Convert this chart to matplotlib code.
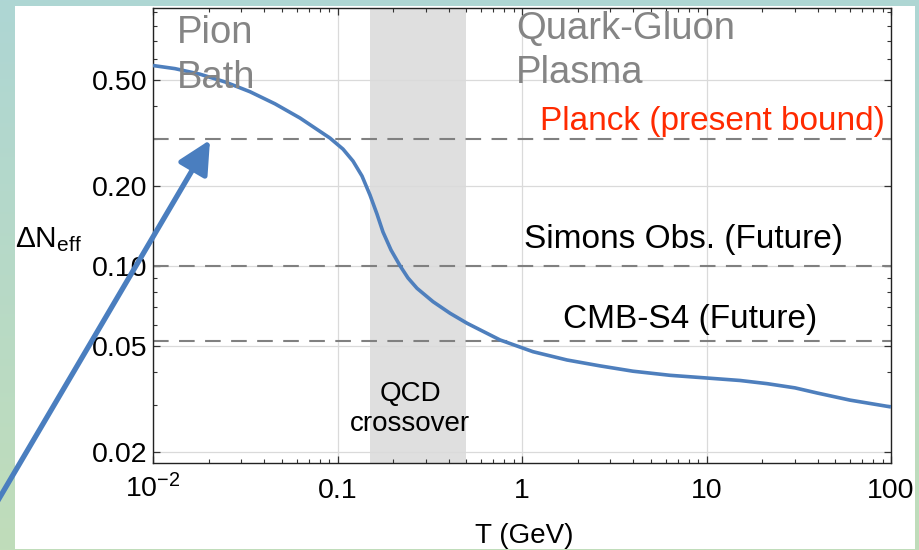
import numpy as np
import matplotlib
matplotlib.use("Agg")
import matplotlib.pyplot as plt
from matplotlib.ticker import FixedLocator, LogLocator, NullFormatter, FixedFormatter
from matplotlib.patches import Rectangle, FancyArrowPatch

plt.rcParams['font.family'] = ['Liberation Sans', 'DejaVu Sans']
plt.rcParams['mathtext.fontset'] = 'custom'
plt.rcParams['mathtext.rm'] = 'Liberation Sans'
plt.rcParams['mathtext.it'] = 'Liberation Sans:italic'
plt.rcParams['mathtext.bf'] = 'Liberation Sans:bold'

# ---- data ----
T_gev = [0.01, 0.01315, 0.01798, 0.02456, 0.03354, 0.04584, 0.06261, 0.091,
         0.1071, 0.1213, 0.1358, 0.150, 0.1637, 0.1764, 0.195, 0.2182, 0.2411,
         0.2698, 0.3294, 0.4073, 0.5034, 0.760, 1.147, 1.754, 2.647, 3.997,
         6.342, 10.06, 15.19, 21.28, 30.18, 39.71, 59.95, 100.0]
dneff = [0.567, 0.552, 0.526, 0.492, 0.452, 0.407, 0.360, 0.3026,
         0.275, 0.248, 0.2178, 0.1848, 0.1567, 0.1342, 0.1148, 0.1002, 0.0901,
         0.0824, 0.0734, 0.0664, 0.0609, 0.0527, 0.0476, 0.0443, 0.0421, 0.0402,
         0.0388, 0.0379, 0.0371, 0.0361, 0.0348, 0.0333, 0.0313, 0.0295]

bound_values = [0.3, 0.1, 0.052]          # Planck, Simons Obs., CMB-S4
qcd_band = [0.15, 0.5]

x_ticks = [0.01, 0.1, 1, 10, 100]
x_ticklabels = [r'$10^{-2}$', '0.1', '1', '10', '100']
y_ticks = [0.02, 0.05, 0.1, 0.2, 0.5]
y_ticklabels = ['0.02', '0.05', '0.10', '0.20', '0.50']

W, H = 920, 550
fig = plt.figure(figsize=(W / 100, H / 100), dpi=100)

# background gradient + white panel
bg = fig.add_axes([0, 0, 1, 1], zorder=-10)
top_c = np.array([174, 214, 212]) / 255
bot_c = np.array([192, 221, 186]) / 255
t = np.linspace(0, 1, 256)[:, None]
grad = top_c[None, :] * (1 - t) + bot_c[None, :] * t
bg.imshow(grad[:, None, :].repeat(2, axis=1), aspect='auto', extent=[0, 1, 0, 1])
bg.add_patch(Rectangle((15 / W, 1 - 549 / H), 900 / W, 543 / H, facecolor='white',
                       edgecolor='none', transform=bg.transAxes))
bg.set_xlim(0, 1); bg.set_ylim(0, 1)
bg.axis('off')

ax = fig.add_axes([153 / W, 1 - 463 / H, (891 - 153) / W, (463 - 8) / H])
ax.set_facecolor('white')
ax.set_xscale('log'); ax.set_yscale('log')
ax.set_xlim(0.01, 100)
ax.set_ylim(0.01816, 0.933)

ax.axvspan(qcd_band[0], qcd_band[1], color='#dfdfdf', zorder=1, lw=0)
ax.grid(True, which='major', color='#dadada', lw=0.9)
ax.set_axisbelow('line')

for v in bound_values:
    ax.axhline(v, color='#808080', lw=1.5, ls=(0, (7.5, 5)), zorder=2)

ax.plot(T_gev, dneff, color='#4e7fbd', lw=2.6, zorder=3, solid_capstyle='butt',
        solid_joinstyle='round')

ax.xaxis.set_major_locator(FixedLocator(x_ticks))
ax.xaxis.set_major_formatter(FixedFormatter(x_ticklabels))
ax.xaxis.set_minor_locator(LogLocator(base=10, subs=np.arange(2, 10)))
ax.xaxis.set_minor_formatter(NullFormatter())
ax.yaxis.set_major_locator(FixedLocator(y_ticks))
ax.yaxis.set_major_formatter(FixedFormatter(y_ticklabels))
ax.yaxis.set_minor_locator(LogLocator(base=10, subs=np.arange(2, 10)))
ax.yaxis.set_minor_formatter(NullFormatter())

ax.tick_params(which='both', direction='in', top=True, right=True, color='#333333',
               labelsize=20.5, labelcolor='black')
ax.tick_params(which='major', length=5, width=0.9)
ax.tick_params(which='minor', length=3, width=0.8)
ax.tick_params(axis='y', pad=4)
ax.tick_params(axis='x', pad=25)
for lbl in ax.get_xticklabels():
    lbl.set_va('baseline')
for s in ax.spines.values():
    s.set_color('#222222'); s.set_linewidth(1.0)

gray = '#858585'
ax.text(0.01345, 0.689, 'Pion', fontsize=27.5, color=gray, ha='left', va='baseline', zorder=4)
ax.text(0.01345, 0.466, 'Bath', fontsize=27.5, color=gray, ha='left', va='baseline', zorder=4)
ax.text(0.928, 0.713, 'Quark-Gluon', fontsize=27.5, color=gray, ha='left', va='baseline', zorder=4)
ax.text(0.928, 0.487, 'Plasma', fontsize=27.5, color=gray, ha='left', va='baseline', zorder=4)
ax.text(92.7, 0.324, 'Planck (present bound)', fontsize=24, color='#ff2a00',
        ha='right', va='baseline', zorder=4)
ax.text(7.55, 0.117, 'Simons Obs. (Future)', fontsize=24, color='black',
        ha='center', va='baseline', zorder=4)
ax.text(8.15, 0.0585, 'CMB-S4 (Future)', fontsize=24, color='black',
        ha='center', va='baseline', zorder=4)
ax.text(0.247, 0.0311, 'QCD', fontsize=20, color='black', ha='center', va='baseline', zorder=4)
ax.text(0.247, 0.0239, 'crossover', fontsize=20, color='black', ha='center', va='baseline', zorder=4)

fig.text(524 / W, 1 - 543 / H, 'T (GeV)', fontsize=20, ha='center', va='baseline')
fig.text(15 / W, 1 - 247 / H, r'ΔN$_{\mathregular{eff}}$', fontsize=21.5, ha='left', va='baseline')

arrow = FancyArrowPatch((-10 / W, 1 - 514 / H), (210 / W, 1 - 140 / H),
                        transform=fig.transFigure, arrowstyle='-|>,head_length=1.0,head_width=0.5',
                        mutation_scale=20, color='#4a7ebf', lw=3.8, shrinkA=0, shrinkB=0,
                        zorder=10)
fig.add_artist(arrow)

fig.savefig('out.png', dpi=100)
